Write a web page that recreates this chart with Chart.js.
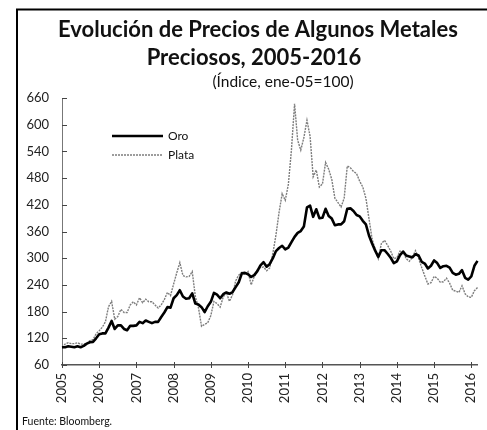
<!DOCTYPE html>
<html lang="es">
<head>
<meta charset="UTF-8">
<title>Evolución de Precios de Algunos Metales Preciosos</title>
<style>
    html, body {
        margin: 0;
        padding: 0;
        background: #fff;
        overflow: hidden;
    }
    #wrap {
        position: relative;
        width: 495px;
        height: 430px;
    }
</style>
</head>
<body>
<div id="wrap"><canvas id="metalsChart" width="495" height="430"></canvas></div>
<script src="https://cdn.jsdelivr.net/npm/chart.js@4"></script>
<script>
// monthly index values, ene-05 = 100
const years = [2005, 2006, 2007, 2008, 2009, 2010, 2011, 2012, 2013, 2014, 2015, 2016];

const oro = [
    100, 100, 102, 101, 100, 102, 100, 103, 108, 111, 112, 120,
    129, 131, 131, 144, 159, 141, 149, 149, 141, 138, 148, 148,
    149, 157, 154, 160, 157, 154, 157, 157, 168, 178, 190, 189,
    210, 217, 228, 214, 209, 210, 221, 198, 196, 190, 179, 192,
    202, 222, 218, 210, 219, 223, 220, 224, 235, 246, 266, 267,
    264, 258, 262, 271, 284, 291, 281, 287, 300, 316, 323, 328,
    320, 324, 336, 348, 357, 361, 371, 414, 418, 393, 410, 390,
    391, 411, 395, 389, 374, 376, 376, 383, 411, 412, 406, 397,
    394, 384, 376, 351, 333, 317, 303, 318, 318, 310, 301, 289,
    293, 307, 315, 306, 304, 302, 309, 306, 292, 288, 277, 283,
    295, 289, 278, 282, 283, 279, 267, 263, 265, 273, 256, 252,
    259, 283, 294
];

const plata = [
    100, 107, 110, 108, 108, 110, 107, 107, 108, 115, 117, 130,
    137, 145, 157, 191, 203, 163, 169, 185, 178, 178, 195, 202,
    195, 211, 200, 208, 202, 202, 195, 188, 195, 207, 223, 216,
    242, 267, 290, 261, 258, 259, 270, 214, 189, 147, 151, 155,
    171, 203, 198, 190, 213, 223, 203, 218, 249, 262, 268, 263,
    270, 240, 259, 274, 279, 280, 272, 278, 311, 352, 403, 445,
    430, 466, 544, 647, 565, 543, 571, 610, 574, 483, 498, 460,
    467, 515, 500, 477, 435, 425, 415, 435, 507, 503, 495, 490,
    473, 460, 435, 389, 343, 320, 299, 333, 340, 329, 316, 299,
    301, 316, 314, 299, 293, 302, 317, 300, 279, 260, 242, 245,
    259, 255, 246, 247, 255, 244, 228, 226, 223, 238, 220, 213,
    212, 227, 234
];

const yTicks = [60, 120, 180, 240, 300, 360, 420, 480, 540, 600, 660];
const seriesNames = ['Oro', 'Plata'];

// month categories, 2005-01 ... last month with data
const labels = [];
years.forEach(y => {
    for (let m = 1; m <= 12; m++) labels.push(y + '-' + String(m).padStart(2, '0'));
});
labels.length = oro.length;

const FONT = 'Lato, "Open Sans", sans-serif';

// titles, frame, legend, source, tick marks
const decor = {
    id: 'decor',
    afterDraw(chart) {
        const ctx = chart.ctx;
        const area = chart.chartArea;
        const xs = chart.scales.x;
        const ys = chart.scales.y;
        ctx.save();

        // frame
        ctx.strokeStyle = '#000';
        ctx.lineWidth = 2;
        ctx.beginPath();
        ctx.moveTo(17, 430);
        ctx.lineTo(17, 9.5);
        ctx.lineTo(495, 9.5);
        ctx.stroke();

        // titles
        ctx.fillStyle = '#111';
        ctx.textAlign = 'center';
        ctx.textBaseline = 'alphabetic';
        ctx.font = 'bold 22px ' + FONT;
        ctx.fillText('Evolución de Precios de Algunos Metales', 258, 37);
        ctx.fillText('Preciosos, 2005-2016', 254, 65);
        ctx.font = '15.5px ' + FONT;
        ctx.fillText('(Índice, ene-05=100)', 283, 87);

        // source
        ctx.textAlign = 'left';
        ctx.font = '10.5px ' + FONT;
        ctx.fillText('Fuente: Bloomberg.', 22, 425);

        // inner ticks on y axis
        ctx.strokeStyle = '#444';
        ctx.lineWidth = 1;
        yTicks.forEach(v => {
            const y = Math.round(ys.getPixelForValue(v)) + 0.5;
            ctx.beginPath();
            ctx.moveTo(area.left, y);
            ctx.lineTo(area.left + 5, y);
            ctx.stroke();
        });
        // year ticks on x axis
        labels.forEach((l, i) => {
            if (!l.endsWith('-01')) return;
            const x = Math.round(xs.getPixelForValue(i)) + 0.5;
            ctx.beginPath();
            ctx.moveTo(x, area.bottom - 3);
            ctx.lineTo(x, area.bottom + 3);
            ctx.stroke();
        });

        // legend inside the plot
        const ds = chart.data.datasets;
        const lx = area.left + 50;
        [38, 57].forEach((dy, k) => {
            const y = area.top + dy;
            ctx.strokeStyle = ds[k].borderColor;
            ctx.lineWidth = ds[k].borderWidth;
            ctx.setLineDash(ds[k].borderDash || []);
            ctx.beginPath();
            ctx.moveTo(lx, y);
            ctx.lineTo(lx + 51, y);
            ctx.stroke();
            ctx.setLineDash([]);
            ctx.fillStyle = '#111';
            ctx.font = '12px ' + FONT;
            ctx.textBaseline = 'middle';
            ctx.fillText(seriesNames[k], lx + 56, y);
        });
        ctx.restore();
    }
};

new Chart(document.getElementById('metalsChart'), {
    type: 'line',
    data: {
        labels: labels,
        datasets: [{
            label: seriesNames[0],
            data: oro,
            borderColor: '#000',
            borderWidth: 2.6,
            borderJoinStyle: 'round',
            pointRadius: 0,
            tension: 0
        }, {
            label: seriesNames[1],
            data: plata,
            borderColor: '#7d7d7d',
            borderWidth: 1.4,
            borderDash: [2, 1],
            pointRadius: 0,
            tension: 0
        }]
    },
    options: {
        responsive: false,
        animation: false,
        devicePixelRatio: 1,
        layout: { padding: { top: 98, right: 6, left: 0, bottom: 0 } },
        plugins: {
            legend: { display: false },
            title: { display: false },
            tooltip: { enabled: false }
        },
        scales: {
            x: {
                type: 'category',
                offset: false,
                afterFit: s => { s.height = 65; },
                grid: { display: true, drawOnChartArea: false, drawTicks: false },
                border: { display: true, color: '#555', width: 1.5 },
                ticks: {
                    autoSkip: false,
                    minRotation: 90,
                    maxRotation: 90,
                    padding: 8,
                    color: '#222',
                    font: { family: FONT, size: 13 },
                    callback: (v, i) => labels[i].endsWith('-01') ? labels[i].slice(0, 4) : null
                }
            },
            y: {
                min: 60,
                max: 660,
                afterFit: s => { s.width = 62; },
                afterBuildTicks: s => { s.ticks = yTicks.map(v => ({ value: v })); },
                grid: { display: true, drawOnChartArea: false, drawTicks: false },
                border: { display: true, color: '#777', width: 1, dash: [1, 1] },
                ticks: {
                    padding: 13,
                    color: '#222',
                    font: { family: FONT, size: 13 }
                }
            }
        }
    },
    plugins: [decor]
});
</script>
</body>
</html>
